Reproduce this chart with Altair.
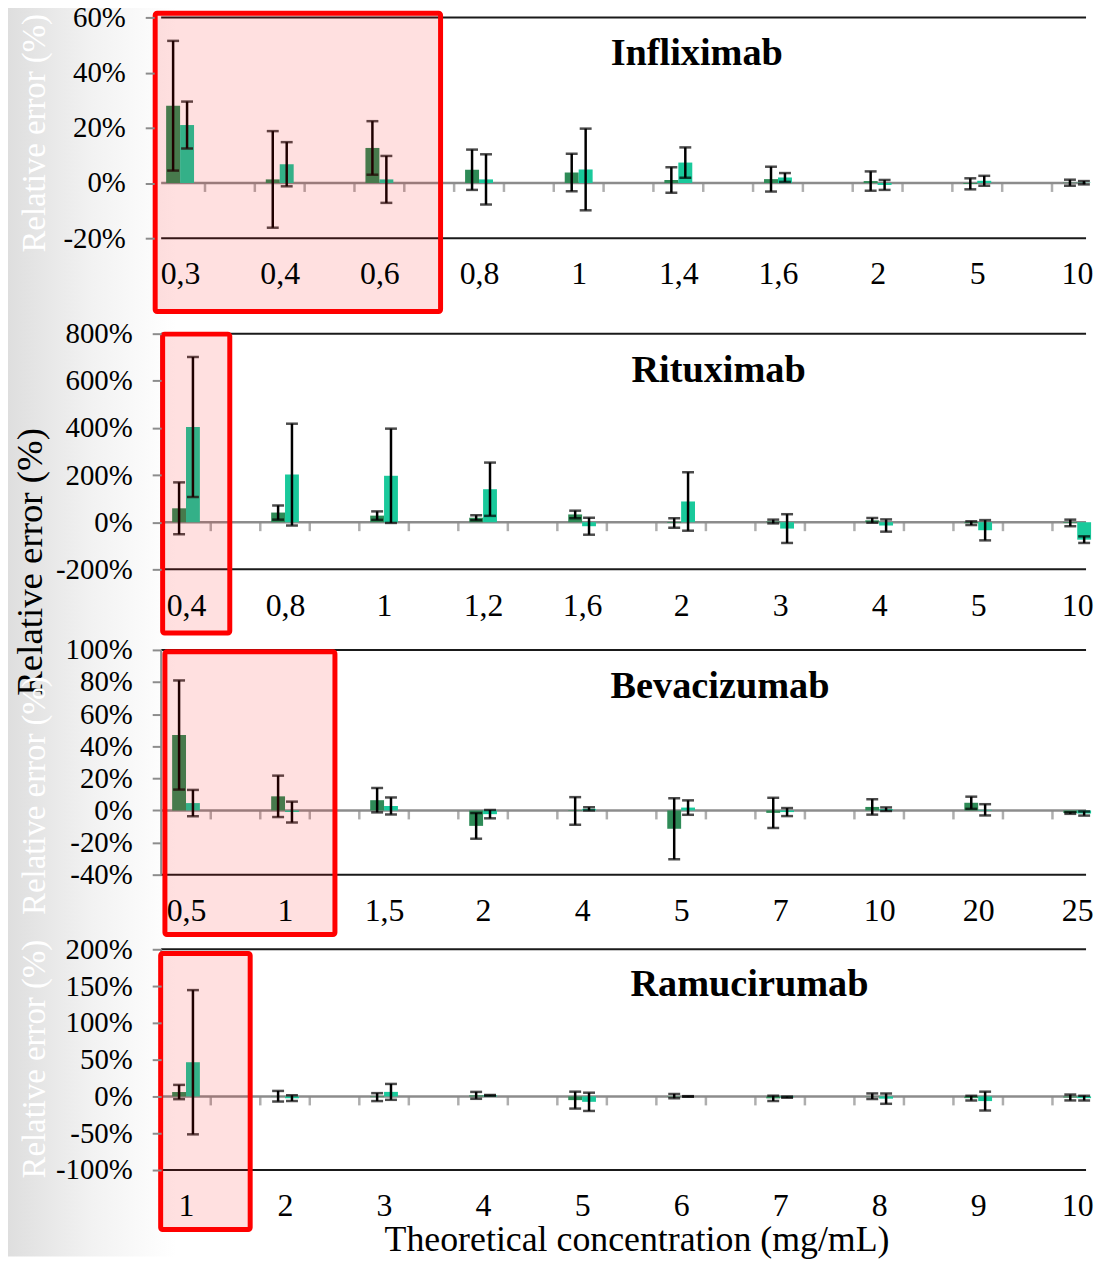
import altair as alt
import pandas as pd

FONT = "Liberation Serif"
DARK = "#2e8b57"
TEAL = "#19c99b"
GREY = "#8c8c8c"
LINE = "#1a1a1a"
BAR_W = 0.14
PANEL_W = 930

# ---------------- data ----------------
inf_labels = ["0,3", "0,4", "0,6", "0,8", "1", "1,4", "1,6", "2", "5", "10"]
inf_a = [28, 1.3, 12.7, 4.8, 3.8, 1.1, 1.4, 0.7, -0.3, 0.1]
inf_a_err = [23.5, 17.5, 9.7, 7.3, 6.8, 4.6, 4.5, 3.5, 2.0, 1.1]
inf_b = [21, 6.8, 1.3, 1.3, 4.9, 7.4, 2.0, -0.7, 0.8, 0.1]
inf_b_err = [8.5, 8.0, 8.5, 9.1, 14.8, 5.5, 1.6, 1.8, 1.8, 0.6]

rit_labels = ["0,4", "0,8", "1", "1,2", "1,6", "2", "3", "4", "5", "10"]
rit_a = [59, 41, 28, 19, 33, -3, 3, 8, -4, -3]
rit_a_err = [110, 30, 18, 10.5, 16, 20, 8, 10, 8, 14]
rit_b = [404, 202, 197, 140, -17, 88, -27, -14, -34, -74]
rit_b_err = [297, 216, 200, 113, 36, 124, 61, 26, 43, 14]

bev_labels = ["0,5", "1", "1,5", "2", "4", "5", "7", "10", "20", "25"]
bev_a = [47, 8.8, 6.4, -9.6, -0.3, -11.4, -1.5, 2.2, 4.8, -1.6]
bev_a_err = [34, 12.9, 7.6, 8, 8.6, 19, 9.4, 4.8, 3.8, 0.5]
bev_b = [4.6, -1, 2.8, -2.3, 1, 1.8, -1, 0.8, 0.4, -1.9]
bev_b_err = [8.2, 6.5, 5.3, 2.6, 1, 4.5, 2.5, 1.1, 3.5, 1.3]

ram_labels = ["1", "2", "3", "4", "5", "6", "7", "8", "9", "10"]
ram_a = [6, 0.3, -0.9, 1.5, -5, 0.5, -2.6, 0.3, -2.3, -1.4]
ram_a_err = [9.7, 7.2, 5.4, 4.7, 11.5, 3, 3.6, 3.8, 3.2, 4]
ram_b = [46.5, -2.3, 6.2, 1.5, -7.3, 0, -1, -3, -6.3, -2.3]
ram_b_err = [98, 3.9, 10.8, 0.5, 12.4, 0.4, 0.8, 7, 12.8, 3.2]

titles = ["Infliximab", "Rituximab", "Bevacizumab", "Ramucirumab"]
y_ticks = [[-20, 0, 20, 40, 60], [-200, 0, 200, 400, 600, 800],
           [-40, -20, 0, 20, 40, 60, 80, 100], [-100, -50, 0, 50, 100, 150, 200]]
y_title = "Relative error (%)"
x_title = "Theoretical concentration (mg/mL)"

# annotation placement (data units of each panel)
title_pos = [(4.321, 42.7), (4.498, 593), (4.287, 70.3), (4.488, 136.5)]
boxes = [(-0.25, 2.614, 61.5, -46.6), (-0.236, 0.442, 798, -470),
         (-0.213, 1.504, 98.9, -77.3), (-0.256, 0.648, 194.3, -180.8)]

# layout / style: each panel's view reaches up to the previous panel's bottom line
layout = [
    dict(ymax=60, ymin=-20, ytop=60, height=222, xmin=-0.19, xmax=9.0915, yoff=7,
         yt=dict(color="white", size=33, x=-120, y=116)),
    dict(ymax=800, ymin=-200, ytop=1205, height=333, xmin=-0.251, xmax=9.0891, yoff=0,
         yt=dict(color="black", size=37, x=-131, y=325)),
    dict(ymax=100, ymin=-40, ytop=150.2, height=307, xmin=-0.251, xmax=9.0891, yoff=0,
         yt=dict(color="white", size=33, x=-127, y=227)),
    dict(ymax=200, ymin=-100, ytop=301.35, height=297, xmin=-0.251, xmax=9.0891, yoff=0,
         yt=dict(color="white", size=33, x=-127, y=185)),
]

series = [
    (inf_labels, inf_a, inf_a_err, inf_b, inf_b_err),
    (rit_labels, rit_a, rit_a_err, rit_b, rit_b_err),
    (bev_labels, bev_a, bev_a_err, bev_b, bev_b_err),
    (ram_labels, ram_a, ram_a_err, ram_b, ram_b_err),
]


def make_panel(k):
    labels, a, a_err, b, b_err = series[k]
    L = layout[k]
    rows, caps = [], []
    for i in range(len(labels)):
        for s, vals, errs, off in (("A", a, a_err, -BAR_W), ("B", b, b_err, 0.0)):
            v, e = vals[i], errs[i]
            xc = i + off + BAR_W / 2
            rows.append(dict(series=s, value=v, zero=0, x0=i + off, x1=i + off + BAR_W,
                             xc=xc, lo=v - e, hi=v + e))
            caps.append(dict(xc=xc, y=v - e))
            caps.append(dict(xc=xc, y=v + e))
    df = pd.DataFrame(rows)
    dcaps = pd.DataFrame(caps)

    xs = alt.Scale(domain=[L["xmin"], L["xmax"]], nice=False, zero=False)
    ys = alt.Scale(domain=[L["ymin"], L["ytop"]], nice=False, zero=False)

    label_arr = "[" + ",".join("'%s'" % t for t in labels) + "]"
    x_axis_kw = dict(values=list(range(len(labels))), labelExpr=label_arr + "[datum.value]",
                     grid=False, ticks=False, domain=False, labelFont=FONT,
                     labelFontSize=32, labelColor="black", labelPadding=21,
                     labelFlush=False, labelOverlap=False, orient="bottom", zindex=1)
    if k == 3:
        x_axis_kw.update(title=x_title, titleFont=FONT, titleFontSize=36,
                         titleFontWeight="normal", titleColor="black", titleX=478,
                         titleY=70, titleBaseline="middle", titleAlign="center")
    else:
        x_axis_kw.update(title="", titleFontSize=1, titleColor="white")
    yt = L["yt"]
    # the same axis objects are given to every layer so that the merged axis is consistent
    xa = alt.Axis(**x_axis_kw)
    ya = alt.Axis(values=y_ticks[k], labelExpr="datum.value + '%'", grid=False,
                  domain=False, tickColor=GREY, tickWidth=2, tickSize=9,
                  labelFont=FONT, labelFontSize=29, labelColor="black", labelPadding=20,
                  offset=L["yoff"], labelFlush=False, labelOverlap=False, orient="left",
                  title=y_title, titleX=yt["x"], titleY=yt["y"], titleAngle=270,
                  titleAlign="center", titleBaseline="middle", titleFont=FONT,
                  titleFontSize=yt["size"], titleFontWeight="normal",
                  titleColor=yt["color"], zindex=1)

    def X(f):
        return alt.X(f, scale=xs, axis=xa)

    def Y(f):
        return alt.Y(f, scale=ys, axis=ya)

    layers = []
    if k == 0:
        grad = {"gradient": "linear", "x1": 0, "x2": 1, "y1": 0, "y2": 0,
                "stops": [{"offset": 0, "color": "#dedede"},
                          {"offset": 0.5, "color": "#f2f2f2"},
                          {"offset": 1, "color": "#ffffff"}]}
        layers.append(alt.Chart(pd.DataFrame({"k": [0]})).mark_rect(color=grad).encode(
            x=alt.value(-154), x2=alt.value(15), y=alt.value(-14.3), y2=alt.value(1246)))

    frame = pd.DataFrame({"y": [L["ymin"], L["ymax"]]})
    layers.append(alt.Chart(frame).mark_rule(color=LINE, strokeWidth=2).encode(y=Y("y:Q")))
    layers.append(alt.Chart(pd.DataFrame({"y": [0]})).mark_rule(color=GREY, strokeWidth=2.5)
                  .encode(y=Y("y:Q")))
    vline = pd.DataFrame({"x": [L["xmin"] - L["yoff"] / 100.0], "y0": [L["ymin"]], "y1": [L["ymax"]]})
    layers.append(alt.Chart(vline).mark_rule(color=GREY, strokeWidth=2).encode(
        x=X("x:Q"), y=Y("y0:Q"), y2="y1:Q"))
    tick_x = [t for i in range(len(labels)) for t in (i - 0.25, i + 0.25)
              if L["xmin"] + 0.02 < t < L["xmax"]]
    layers.append(alt.Chart(pd.DataFrame({"x": tick_x, "y": 0})).mark_tick(
        orient="vertical", size=9, thickness=2.5, color=GREY, yOffset=4.5).encode(
        x=X("x:Q"), y=Y("y:Q")))

    layers.append(alt.Chart(df).mark_rect().encode(
        x=X("x0:Q"), x2="x1:Q", y=Y("value:Q"), y2="zero:Q",
        color=alt.Color("series:N", scale=alt.Scale(domain=["A", "B"], range=[DARK, TEAL]),
                        legend=None)))
    layers.append(alt.Chart(df).mark_rule(color="black", strokeWidth=2.5).encode(
        x=X("xc:Q"), y=Y("lo:Q"), y2="hi:Q"))
    layers.append(alt.Chart(dcaps).mark_tick(orient="horizontal", size=12, thickness=2.5,
                                             color="black").encode(x=X("xc:Q"), y=Y("y:Q")))

    tx, ty = title_pos[k]
    layers.append(alt.Chart(pd.DataFrame({"x": [tx], "y": [ty], "t": [titles[k]]})).mark_text(
        font=FONT, fontSize=38.5, fontWeight="bold", align="left", baseline="alphabetic",
        color="black").encode(x=X("x:Q"), y=Y("y:Q"), text="t:N"))

    bx0, bx1, by0, by1 = boxes[k]
    layers.append(alt.Chart(pd.DataFrame({"x0": [bx0], "x1": [bx1], "y0": [by0], "y1": [by1]}))
                  .mark_rect(fill="#ff0000", fillOpacity=0.12, stroke="#ff0000", strokeWidth=5,
                             cornerRadius=2).encode(
        x=X("x0:Q"), x2="x1:Q", y=Y("y0:Q"), y2="y1:Q"))

    return alt.layer(*layers).properties(width=PANEL_W, height=L["height"])


chart = alt.vconcat(*[make_panel(k) for k in range(4)], spacing=0, bounds="flush").properties(
    padding={"left": 0, "top": -9, "right": 0, "bottom": 0}, background="white"
).configure_view(strokeWidth=0)

chart.save("out.html", embed_options={"renderer": "svg", "actions": False})
